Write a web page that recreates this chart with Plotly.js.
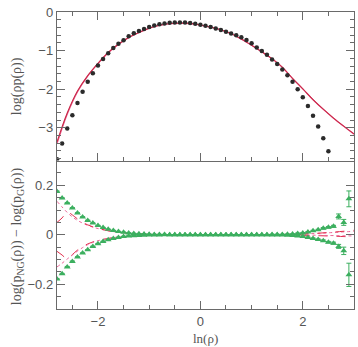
<!DOCTYPE html>
<html><head><meta charset="utf-8">
<script src="https://cdn.plot.ly/plotly-3.0.1.min.js"></script>
<style>body{margin:0;background:#fff}#c{width:358px;height:347px}</style>
</head><body><div id="c"></div>
<script>
// ---- top panel: log(rho p(rho)) ----
const lnRhoData = [-2.8,-2.7,-2.6,-2.5,-2.4,-2.3,-2.2,-2.1,-2.0,-1.9,-1.8,-1.7,-1.6,-1.5,-1.4,-1.3,-1.2,-1.1,-1.0,-0.9,-0.8,-0.7,-0.6,-0.5,-0.4,-0.3,-0.2,-0.1,0.0,0.1,0.2,0.3,0.4,0.5,0.6,0.7,0.8,0.9,1.0,1.1,1.2,1.3,1.4,1.5,1.6,1.7,1.8,1.9,2.0,2.1,2.2,2.3,2.4,2.5];
const logRhoPData = [-3.82,-3.41,-3.02,-2.68,-2.36,-2.07,-1.81,-1.59,-1.39,-1.22,-1.07,-0.935,-0.82,-0.73,-0.63,-0.55,-0.49,-0.44,-0.39,-0.35,-0.315,-0.295,-0.28,-0.27,-0.27,-0.275,-0.285,-0.305,-0.33,-0.355,-0.39,-0.425,-0.465,-0.51,-0.555,-0.60,-0.655,-0.725,-0.81,-0.92,-1.01,-1.11,-1.23,-1.35,-1.49,-1.64,-1.81,-2.0,-2.21,-2.44,-2.69,-2.97,-3.27,-3.61];

const lnRhoModel = [-2.8,-2.6,-2.4,-2.2,-2.0,-1.8,-1.6,-1.4,-1.2,-1.0,-0.8,-0.6,-0.4,-0.2,0.0,0.2,0.4,0.6,0.8,1.0,1.2,1.4,1.6,1.8,2.0,2.2,2.4,2.6,2.8,3.0];
const modelA = [-3.37,-2.62,-2.05,-1.65,-1.33,-1.05,-0.83,-0.66,-0.53,-0.42,-0.345,-0.30,-0.29,-0.295,-0.335,-0.39,-0.46,-0.56,-0.70,-0.86,-1.03,-1.21,-1.43,-1.72,-1.99,-2.27,-2.52,-2.75,-2.96,-3.16];
const modelB = [-3.42,-2.65,-2.07,-1.66,-1.34,-1.06,-0.84,-0.665,-0.535,-0.425,-0.35,-0.305,-0.295,-0.30,-0.34,-0.395,-0.465,-0.565,-0.705,-0.865,-1.035,-1.215,-1.435,-1.725,-1.995,-2.275,-2.525,-2.755,-2.965,-3.17];

// ---- bottom panel: log(p_NG) - log(p_G) ----
const lnRhoDiff = [-2.8,-2.7,-2.6,-2.5,-2.4,-2.3,-2.2,-2.1,-2.0,-1.9,-1.8,-1.7,-1.6,-1.5,-1.4,-1.3,-1.2,-1.1,-1.0,-0.9,-0.8,-0.7,-0.6,-0.5,-0.4,-0.3,-0.2,-0.1,0.0,0.1,0.2,0.3,0.4,0.5,0.6,0.7,0.8,0.9,1.0,1.1,1.2,1.3,1.4,1.5,1.6,1.7,1.8,1.9,2.0,2.1,2.2,2.3,2.4,2.5,2.6,2.7,2.8,2.9];
const diffUpper = [0.175,0.148,0.128,0.108,0.088,0.072,0.058,0.047,0.037,0.029,0.022,0.017,0.013,0.010,0.007,0.005,0.004,0.003,0.002,0.001,0.001,0.001,0.0,0.0,0.0,0.0,0.0,0.0,0.0,0.0,0.0,0.0,0.0,0.0,0.0,0.0,0.0,0.0,0.0,0.0,0.0,0.0,0.001,0.001,0.001,0.002,0.003,0.005,0.007,0.011,0.016,0.020,0.026,0.030,0.034,0.074,0.050,0.145];
const errUpper  = [0.002,0.002,0.002,0.002,0.001,0.001,0.001,0.001,0.001,0.001,0.001,0.001,0.001,0.001,0.001,0.001,0.001,0.001,0.001,0.001,0.001,0.001,0.001,0.001,0.001,0.001,0.001,0.001,0.001,0.001,0.001,0.001,0.001,0.001,0.001,0.001,0.001,0.001,0.001,0.001,0.001,0.001,0.001,0.001,0.001,0.001,0.001,0.002,0.002,0.002,0.002,0.002,0.003,0.003,0.004,0.010,0.012,0.032];
const diffLower = [-0.179,-0.158,-0.130,-0.108,-0.090,-0.074,-0.061,-0.047,-0.036,-0.027,-0.020,-0.015,-0.011,-0.007,-0.005,-0.004,-0.003,-0.002,-0.001,-0.001,-0.001,0.0,0.0,0.0,0.0,0.0,0.0,0.0,0.0,0.0,0.0,0.0,0.0,0.0,0.0,0.0,0.0,0.0,0.0,0.0,0.0,0.0,-0.001,-0.001,-0.001,-0.002,-0.003,-0.005,-0.007,-0.011,-0.015,-0.019,-0.024,-0.030,-0.034,-0.047,-0.065,-0.162];
const errLower  = [0.002,0.002,0.002,0.002,0.001,0.001,0.001,0.001,0.001,0.001,0.001,0.001,0.001,0.001,0.001,0.001,0.001,0.001,0.001,0.001,0.001,0.001,0.001,0.001,0.001,0.001,0.001,0.001,0.001,0.001,0.001,0.001,0.001,0.001,0.001,0.001,0.001,0.001,0.001,0.001,0.001,0.001,0.001,0.001,0.001,0.001,0.001,0.002,0.002,0.002,0.002,0.002,0.003,0.003,0.004,0.008,0.015,0.047];

const lnRhoDiffModel = [-2.8,-2.7,-2.6,-2.5,-2.4,-2.3,-2.2,-2.1,-2.0,-1.8,-1.6,-1.4,-1.2,-1.0,-0.8,-0.5,0.0,0.5,1.0,1.5,2.0,2.5,3.0];
const diffModelUpDot  = [0.135,0.112,0.090,0.072,0.058,0.047,0.038,0.031,0.025,0.016,0.010,0.006,0.004,0.002,0.001,0.0005,0.0,0.0,0.0,0.001,0.003,0.008,0.014];
const diffModelUpDash = [0.050,0.068,0.092,0.080,0.064,0.050,0.040,0.032,0.026,0.016,0.010,0.006,0.004,0.002,0.001,0.0005,0.0,0.0,0.0,0.001,0.003,0.009,0.018];
const diffModelLoDash = [-0.067,-0.082,-0.097,-0.080,-0.062,-0.048,-0.037,-0.029,-0.023,-0.015,-0.009,-0.006,-0.004,-0.002,-0.001,-0.0005,0.0,0.0,0.0,-0.001,-0.002,-0.005,-0.009];
const diffModelLoDot  = [-0.130,-0.115,-0.098,-0.082,-0.066,-0.052,-0.040,-0.031,-0.024,-0.015,-0.009,-0.006,-0.004,-0.002,-0.001,-0.0005,0.0,0.0,0.0,0.0,-0.001,-0.003,-0.005];

const axisCol = '#6a6a6a';
const tickFont = {family: 'Liberation Sans, Arial, sans-serif', size: 13, color: '#555'};
const green = 'rgb(60,175,95)';
const red = 'rgb(225,45,75)';
const pink = 'rgb(235,100,150)';

const traces = [
  {x: lnRhoModel, y: modelB, xaxis: 'x2', yaxis: 'y2', mode: 'lines', line: {color: pink, width: 1.2, shape: 'spline'}},
  {x: lnRhoModel, y: modelA, xaxis: 'x2', yaxis: 'y2', mode: 'lines', line: {color: 'rgb(200,40,70)', width: 1.1, shape: 'spline'}},
  {x: lnRhoData, y: logRhoPData, xaxis: 'x2', yaxis: 'y2', mode: 'markers', marker: {color: '#2b2b2b', size: 4.5, symbol: 'circle'}},

  {x: lnRhoDiffModel, y: diffModelUpDot, xaxis: 'x', yaxis: 'y', mode: 'lines', line: {color: pink, width: 1, dash: 'dot', shape: 'spline'}},
  {x: lnRhoDiffModel, y: diffModelUpDash, xaxis: 'x', yaxis: 'y', mode: 'lines', line: {color: red, width: 1, dash: 'dash', shape: 'spline'}},
  {x: lnRhoDiffModel, y: diffModelLoDash, xaxis: 'x', yaxis: 'y', mode: 'lines', line: {color: red, width: 1, dash: 'dash', shape: 'spline'}},
  {x: lnRhoDiffModel, y: diffModelLoDot, xaxis: 'x', yaxis: 'y', mode: 'lines', line: {color: pink, width: 1, dash: 'dot', shape: 'spline'}},
  {x: lnRhoDiff, y: diffUpper, xaxis: 'x', yaxis: 'y', mode: 'markers', marker: {color: green, size: 6, symbol: 'triangle-up'},
   error_y: {type: 'data', array: errUpper, color: green, thickness: 1, width: 2.5}},
  {x: lnRhoDiff, y: diffLower, xaxis: 'x', yaxis: 'y', mode: 'markers', marker: {color: green, size: 6, symbol: 'triangle-up'},
   error_y: {type: 'data', array: errLower, color: green, thickness: 1, width: 2.5}}
];

function xAxis(extra) {
  return Object.assign({
    range: [-2.8, 3.0], tickmode: 'linear', tick0: 0, dtick: 2,
    ticks: 'inside', ticklen: 8, tickwidth: 1, tickcolor: axisCol,
    minor: {dtick: 0.5, ticks: 'inside', ticklen: 4, tickcolor: axisCol, tickwidth: 1},
    showline: true, linecolor: axisCol, linewidth: 1.2, mirror: 'ticks', showgrid: false, zeroline: false, tickfont: tickFont
  }, extra);
}
function yAxis(extra) {
  return Object.assign({
    tickmode: 'linear', tick0: 0,
    ticks: 'inside', ticklen: 8, tickwidth: 1, tickcolor: axisCol,
    showline: true, linecolor: axisCol, linewidth: 1.2, mirror: 'ticks', showgrid: false, zeroline: false, tickfont: tickFont
  }, extra);
}

const layout = {
  width: 358, height: 347,
  margin: {l: 57, r: 4, t: 12, b: 38},
  paper_bgcolor: '#fff', plot_bgcolor: '#fff',
  showlegend: false,
  xaxis: xAxis({anchor: 'y', domain: [0, 1], mirror: false}),
  xaxis2: xAxis({anchor: 'y2', domain: [0, 1], showticklabels: false}),
  yaxis: yAxis({domain: [0, 0.5], anchor: 'x', range: [-0.3, 0.3], dtick: 0.2,
    minor: {dtick: 0.05, ticks: 'inside', ticklen: 4, tickcolor: axisCol, tickwidth: 1}}),
  yaxis2: yAxis({domain: [0.5, 1], anchor: 'x2', range: [-3.85, 0], dtick: 1,
    minor: {dtick: 0.2, ticks: 'inside', ticklen: 4, tickcolor: axisCol, tickwidth: 1}}),
  annotations: [
    {text: 'log(\u03C1p(\u03C1))', xref: 'paper', yref: 'paper', x: -0.135, y: 0.75, textangle: -90, showarrow: false,
     xanchor: 'center', yanchor: 'middle', font: {family: 'Liberation Serif, serif', size: 14, color: '#555'}},
    {text: 'log(p<sub>NG</sub>(\u03C1)) \u2212 log(p<sub>G</sub>(\u03C1))', xref: 'paper', yref: 'paper', x: -0.135, y: 0.245, textangle: -90, showarrow: false,
     xanchor: 'center', yanchor: 'middle', font: {family: 'Liberation Serif, serif', size: 14, color: '#555'}},
    {text: 'ln(\u03C1)', xref: 'paper', yref: 'paper', x: 0.5, y: -0.098, showarrow: false,
     xanchor: 'center', yanchor: 'middle', font: {family: 'Liberation Serif, serif', size: 13, color: '#555'}}
  ]
};

Plotly.newPlot('c', traces, layout, {staticPlot: true, displayModeBar: false});
</script>
</body></html>
